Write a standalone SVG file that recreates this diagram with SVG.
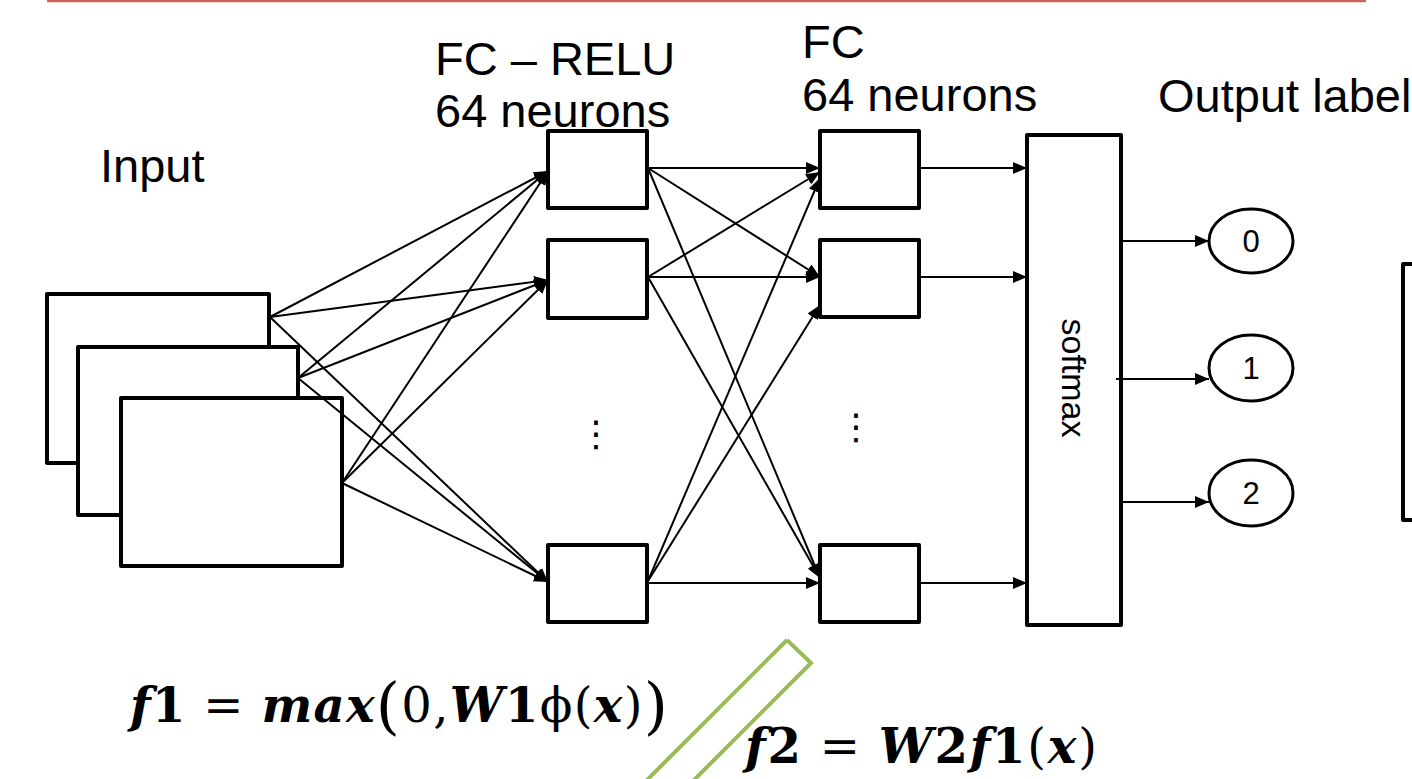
<svg xmlns="http://www.w3.org/2000/svg" width="1412" height="779" viewBox="0 0 1412 779">
<style>
.box{fill:#fff;stroke:#000;stroke-width:4;stroke-linejoin:round}
.lbl{font-family:"Liberation Sans",Arial,sans-serif;font-size:47px;fill:#000}
.num{font-family:"Liberation Sans",Arial,sans-serif;fill:#000;text-anchor:middle}
.dots{font-family:"DejaVu Sans",sans-serif;font-size:36px;fill:#000;text-anchor:middle}
.con line{stroke:#000;stroke-width:2;marker-end:url(#arr)}
.math{font-family:"DejaVu Serif","Liberation Serif",serif;font-size:48px;fill:#000}
.bi{font-weight:bold;font-style:italic}
.b{font-weight:bold}
</style>
<defs>
<marker id="arr" markerUnits="userSpaceOnUse" markerWidth="16" markerHeight="14" refX="14" refY="6" orient="auto">
<path d="M0,0 L14,6 L0,12 Z" fill="#000"/>
</marker>
</defs>
<rect width="1412" height="779" fill="#fff"/>
<line x1="47" y1="1" x2="1366" y2="1" stroke="#d0605a" stroke-width="2.5"/>

<g id="labels">
<text class="lbl" x="100" y="182">Input</text>
<text class="lbl" x="435" y="75">FC – RELU</text>
<text class="lbl" x="435" y="127">64 neurons</text>
<text class="lbl" x="802" y="58">FC</text>
<text class="lbl" x="802" y="111">64 neurons</text>
<text class="lbl" x="1158" y="112">Output label</text>
</g>

<g id="input">
<rect class="box" x="47" y="294" width="222" height="169"/>
<rect class="box" x="78" y="347" width="220" height="168"/>
<rect class="box" x="121" y="398" width="221" height="168"/>
</g>

<g id="fc1">
<rect class="box" x="548" y="131" width="99" height="77"/>
<rect class="box" x="548" y="240" width="99" height="78"/>
<rect class="box" x="548" y="545" width="99" height="77"/>
<text class="dots" x="596" y="446">⋮</text>
</g>

<g id="fc2">
<rect class="box" x="820" y="131" width="99" height="77"/>
<rect class="box" x="820" y="240" width="99" height="77"/>
<rect class="box" x="820" y="545" width="99" height="77"/>
<text class="dots" x="856" y="439">⋮</text>
</g>

<g id="softmax">
<rect class="box" x="1027" y="135" width="94" height="490"/>
<text font-family="Liberation Sans,Arial,sans-serif" font-size="34" text-anchor="middle" transform="translate(1062,378) rotate(90)">softmax</text>
</g>

<g id="out0">
<ellipse cx="1251" cy="241" rx="42" ry="32" fill="#fff" stroke="#000" stroke-width="3"/>
<text class="num" x="1251" y="252" font-size="31">0</text>
</g>
<g id="out1">
<ellipse cx="1251" cy="368" rx="42" ry="33" fill="#fff" stroke="#000" stroke-width="3"/>
<text class="num" x="1251" y="379" font-size="31">1</text>
</g>
<g id="out2">
<ellipse cx="1251" cy="493" rx="42" ry="33" fill="#fff" stroke="#000" stroke-width="3"/>
<text class="num" x="1251" y="504" font-size="31">2</text>
</g>

<g id="rightbox">
<rect class="box" x="1403" y="264" width="40" height="256"/>
</g>

<g id="connectors" class="con">
<line x1="270" y1="317" x2="548" y2="171"/>
<line x1="270" y1="317" x2="548" y2="280"/>
<line x1="270" y1="317" x2="548" y2="582"/>
<line x1="298" y1="378" x2="548" y2="171"/>
<line x1="298" y1="378" x2="548" y2="280"/>
<line x1="298" y1="378" x2="548" y2="582"/>
<line x1="342" y1="483" x2="548" y2="171"/>
<line x1="342" y1="483" x2="548" y2="280"/>
<line x1="342" y1="483" x2="548" y2="582"/>

<line x1="648" y1="168" x2="820" y2="168"/>
<line x1="648" y1="168" x2="820" y2="277"/>
<line x1="648" y1="168" x2="820" y2="578"/>
<line x1="648" y1="277" x2="820" y2="172"/>
<line x1="648" y1="277" x2="820" y2="277"/>
<line x1="648" y1="277" x2="820" y2="578"/>
<line x1="648" y1="581" x2="820" y2="178"/>
<line x1="648" y1="581" x2="820" y2="305"/>
<line x1="648" y1="583" x2="820" y2="583"/>

<line x1="921" y1="168" x2="1027" y2="168"/>
<line x1="921" y1="277" x2="1027" y2="277"/>
<line x1="921" y1="583" x2="1027" y2="583"/>

<line x1="1121" y1="241" x2="1209" y2="241"/>
<line x1="1116" y1="379" x2="1209" y2="379"/>
<line x1="1121" y1="502" x2="1209" y2="502"/>
</g>

<g id="green">
<path d="M787,640 L811,663 L671,803 M787,640 L627,800" fill="none" stroke="#9bbb59" stroke-width="4" stroke-linejoin="miter"/>
</g>

<g id="formulas">
<text class="math" x="130" y="722" textLength="538" lengthAdjust="spacing"><tspan class="bi">f</tspan><tspan class="b">1</tspan> = <tspan class="bi">max</tspan><tspan font-size="62" dy="5">(</tspan><tspan dy="-5">0,</tspan><tspan class="bi">W</tspan><tspan class="b">1</tspan>ϕ(<tspan class="bi">x</tspan>)<tspan font-size="62" dy="5">)</tspan></text>
<text class="math" x="745" y="763" textLength="352" lengthAdjust="spacing"><tspan class="bi">f</tspan><tspan class="b">2</tspan> = <tspan class="bi">W</tspan><tspan class="b">2</tspan><tspan class="bi">f</tspan><tspan class="b">1</tspan>(<tspan class="bi">x</tspan>)</text>
</g>
</svg>
